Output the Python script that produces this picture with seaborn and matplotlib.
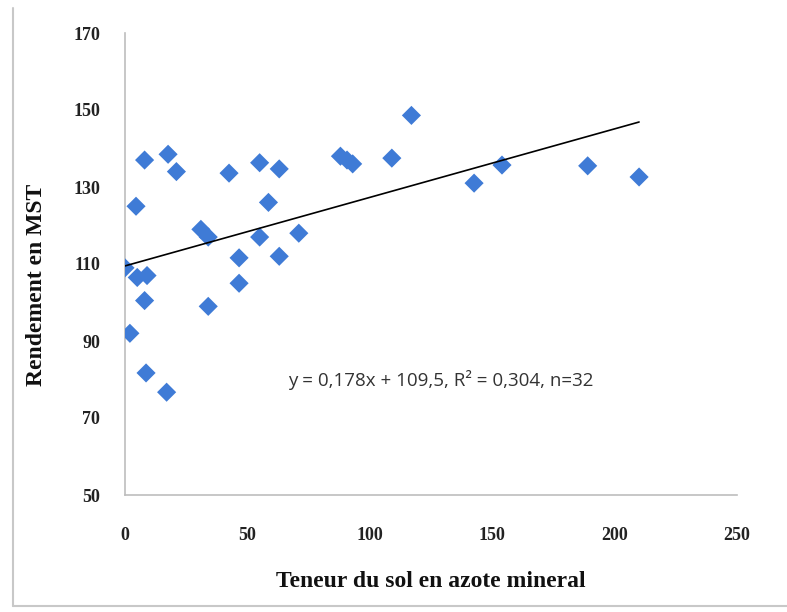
import matplotlib
matplotlib.use("Agg")
import matplotlib.pyplot as plt
from matplotlib.lines import Line2D
import numpy as np
import pandas as pd
import seaborn as sns

# Soil mineral nitrogen content vs. dry-matter yield
azote = [0, 5, 9, 8, 2, 4.5, 8, 8.6, 17.6, 17, 21, 31, 34, 34, 42.5,
         46.6, 46.6, 55, 55, 58.6, 63, 63, 71, 88, 90.7, 93, 109, 117,
         142.6, 154, 189, 210]
rendement = [109, 106.5, 107, 100.5, 92, 125, 137, 81.7, 138.5, 76.7, 134,
             119, 117, 99, 133.6, 111.6, 105, 136.3, 117, 126, 134.7, 112,
             118, 138, 137, 136, 137.5, 148.6, 131, 135.7, 135.5, 132.6]

# Linear fit reported on the chart
slope = 0.178
intercept = 109.5
r2 = 0.304
fit_x = [0, 210]

x_ticks = [0, 50, 100, 150, 200, 250]
y_ticks = [50, 70, 90, 110, 130, 150, 170]

df = pd.DataFrame({"azote": azote, "rendement": rendement})

sns.set_style("white")
fig = plt.figure(figsize=(7.87, 6.12), dpi=100)
ax = fig.add_axes([125 / 787, 1 - 495 / 612, 612 / 787, 462 / 612])

sns.scatterplot(data=df, x="azote", y="rendement", marker="D", s=95,
                color="#3f7bd6", edgecolor="none", ax=ax, zorder=3)

fit_df = pd.DataFrame({"x": fit_x, "y": [slope * v + intercept for v in fit_x]})
sns.lineplot(data=fit_df, x="x", y="y", color="black", linewidth=1.2, ax=ax, zorder=4)

ax.set_xlim(0, 250)
ax.set_ylim(50, 170)
ax.set_xticks(x_ticks)
ax.set_yticks(y_ticks)

for side in ("top", "right"):
    ax.spines[side].set_visible(False)
for side in ("left", "bottom"):
    ax.spines[side].set_color("#bdbdbd")
    ax.spines[side].set_linewidth(1.2)

serif = ["Liberation Serif", "DejaVu Serif"]
ax.tick_params(axis="both", direction="out", length=5, width=1, color="#bdbdbd",
               labelsize=13, labelcolor="#222222")
ax.tick_params(axis="x", pad=18)
ax.tick_params(axis="y", pad=13)
for lab in ax.get_xticklabels() + ax.get_yticklabels():
    lab.set_fontfamily(serif)
    lab.set_fontweight("bold")

ax.set_xlabel("Teneur du sol en azote mineral", fontsize=17, fontweight="bold",
              family=serif, color="#111111")
ax.set_ylabel("Rendement en MST", fontsize=17, fontweight="bold",
              family=serif, color="#111111")
ax.xaxis.set_label_coords(0.5, -0.165)
ax.yaxis.set_label_coords(-0.128, 0.455)

ax.text(129, 80, f"y = 0,178x + 109,5, R² = 0,304, n={len(azote)}",
        ha="center", va="center", fontsize=13.5, color="#333333",
        family=["Open Sans", "DejaVu Sans"])

# Chart frame edges
fig.add_artist(Line2D([13 / 787, 13 / 787], [1 - 606 / 612, 1 - 8 / 612],
                      transform=fig.transFigure, color="#c8c8c8", linewidth=1.5))
fig.add_artist(Line2D([13 / 787, 1.0], [1 - 606 / 612, 1 - 606 / 612],
                      transform=fig.transFigure, color="#c8c8c8", linewidth=1.5))

fig.savefig("out.png", dpi=100)
